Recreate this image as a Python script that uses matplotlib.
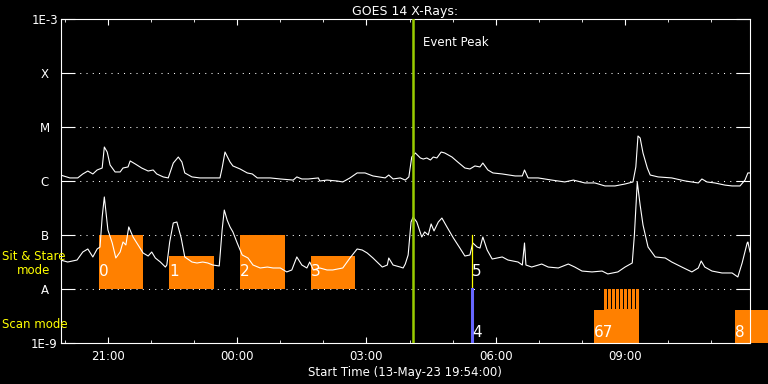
import matplotlib
matplotlib.use('Agg')
import matplotlib.pyplot as plt
import matplotlib.dates as mdates
import pandas as pd

start = pd.Timestamp('2023-05-13 19:54:00')
span_min = 960

# GOES long channel (upper curve), minutes from start, flux in 1e-6 W/m^2
long_min = [0, 13, 24, 31, 38, 45, 51, 58, 61, 65, 69, 76, 83, 87, 94, 97, 104, 113, 122, 129,
            134, 143, 150, 157, 164, 169, 173, 183, 194, 204, 222, 225, 229, 236, 240, 250, 260,
            267, 274, 292, 306, 324, 329, 336, 345, 359, 361, 371, 385, 393, 403, 413, 424, 435,
            452, 457, 463, 473, 480, 485, 489, 494, 501, 505, 510, 515, 519, 524, 530, 535, 545,
            553, 563, 570, 577, 584, 588, 595, 602, 615, 633, 643, 646, 651, 665, 684, 702, 714,
            730, 744, 754, 758, 772, 786, 797, 801, 804, 807, 811, 817, 821, 832, 851, 870, 888,
            893, 900, 911, 925, 935, 946, 953, 957, 960]
long_flux = [1.29, 1.14, 1.14, 1.35, 1.53, 1.35, 1.60, 1.74, 4.26, 3.44, 1.98, 1.47, 1.47, 1.74,
             1.82, 2.35, 2.07, 1.74, 1.53, 1.60, 1.35, 1.19, 1.14, 2.15, 2.78, 2.25, 1.41, 1.19,
             1.14, 1.14, 1.14, 1.74, 3.44, 2.25, 1.90, 1.67, 1.41, 1.35, 1.14, 1.14, 1.09, 1.04,
             1.19, 1.09, 1.09, 1.14, 1.00, 1.04, 1.00, 0.96, 1.14, 1.41, 1.41, 1.24, 1.14, 1.29,
             1.09, 1.14, 1.04, 1.19, 2.78, 3.30, 2.67, 2.55, 2.67, 2.45, 2.78, 2.67, 3.44, 3.30,
             2.78, 2.25, 1.74, 1.67, 1.90, 1.82, 2.15, 1.60, 1.41, 1.35, 1.24, 1.24, 1.60, 1.14,
             1.14, 1.04, 0.96, 1.04, 0.92, 0.92, 0.84, 0.81, 0.81, 0.88, 0.96, 1.82, 6.81, 6.26,
             3.30, 1.74, 1.29, 1.19, 1.14, 1.00, 0.92, 1.09, 0.96, 0.92, 0.84, 0.81, 0.81, 1.04,
             1.41, 1.41]

# GOES short channel (lower curve), minutes from start, flux in 1e-8 W/m^2
short_min = [0, 10, 23, 31, 38, 45, 51, 55, 58, 61, 63, 66, 72, 77, 83, 87, 91, 95, 101, 108,
             115, 122, 127, 132, 139, 146, 148, 152, 157, 162, 168, 173, 183, 190, 198, 205, 212,
             221, 225, 228, 232, 236, 240, 246, 253, 261, 268, 278, 288, 296, 306, 315, 322, 329,
             336, 343, 347, 352, 361, 371, 379, 393, 403, 413, 420, 427, 435, 448, 455, 457, 463,
             473, 477, 480, 484, 488, 491, 496, 503, 507, 512, 516, 520, 526, 531, 538, 547, 556,
             563, 570, 574, 580, 584, 588, 594, 601, 615, 623, 637, 643, 646, 648, 656, 670, 679,
             693, 707, 716, 726, 740, 754, 762, 776, 786, 796, 799, 803, 807, 811, 818, 828, 842,
             851, 865, 879, 888, 892, 897, 907, 921, 935, 943, 949, 956, 957, 960]
short_flux = [3.44, 3.16, 3.44, 4.84, 5.51, 3.92, 5.51, 5.99, 21.5, 50.6, 29.0, 12.4, 7.11, 3.75,
              4.84, 7.42, 6.53, 14.1, 9.18, 6.53, 4.64, 4.08, 4.84, 3.75, 3.16, 2.55, 2.78, 7.42,
              16.7, 17.4, 8.80, 3.92, 3.16, 3.03, 3.16, 3.03, 2.78, 2.67, 12.4, 29.0, 18.9, 14.1,
              11.4, 7.11, 4.26, 3.75, 2.78, 2.45, 2.55, 2.45, 2.45, 2.07, 2.25, 3.92, 2.78, 2.45,
              3.16, 2.25, 2.45, 2.25, 2.25, 2.45, 3.75, 5.51, 5.27, 4.64, 3.75, 2.55, 2.78, 3.75,
              2.78, 2.55, 2.45, 2.90, 4.26, 17.4, 21.5, 17.4, 9.18, 11.4, 10.0, 16.0, 11.9, 17.4,
              20.6, 14.1, 8.80, 5.74, 4.08, 4.26, 7.11, 5.99, 5.74, 9.18, 5.27, 3.59, 3.92, 3.44,
              3.16, 2.78, 7.11, 2.78, 2.55, 2.90, 2.55, 2.45, 2.90, 2.55, 2.15, 2.07, 2.15, 1.90,
              2.07, 2.55, 3.03, 10.0, 95.8, 35.9, 15.3, 5.99, 3.92, 3.75, 3.16, 2.55, 2.07, 2.45,
              3.30, 2.55, 2.15, 1.98, 1.98, 1.67, 3.03, 7.11, 7.42, 4.84]

# observing blocks (minutes from start)
stare_start = [54, 151, 250, 349]
stare_end = [115, 214, 312, 410]
stare_top = [1e-7, 4.1e-8, 1e-7, 4.1e-8]
stare_labels = ['0', '1', '2', '3']

scan_start = [743, 939]
scan_end = [805, 985]
scan_top = [4.1e-9, 4.1e-9]
scan_labels = ['67', '8']
# rasters drawn as an orange block split by thin black gaps
raster_block = (757, 806)
raster_gaps = [761.5, 767, 772.5, 778, 783.5, 789, 794.5, 800]

peak_min = 491
mark_min = 573

level_vals = [1e-9, 1e-8, 1e-7, 1e-6, 1e-5, 1e-4, 1e-3]
level_labels = ['1E-9', 'A', 'B', 'C', 'M', 'X', '1E-3']

orange = '#ff8000'


def t(m):
    return start + pd.Timedelta(minutes=m)


fig = plt.figure(figsize=(7.68, 3.84), dpi=100, facecolor='black')
ax = fig.add_axes([0.0788, 0.1068, 0.8978, 0.8437], facecolor='black')
ax.set_yscale('log')
ax.set_ylim(1e-9, 1e-3)
ax.set_xlim(t(0), t(span_min))

# orange blocks
for s, e, top, lab in zip(stare_start, stare_end, stare_top, stare_labels):
    ax.fill_between([t(s), t(e)], 1e-8, top, color=orange, lw=0, zorder=2, antialiased=False)
    ax.text(t(s), 2.1e-8, lab, color='white', fontsize=11, ha='left', va='center', zorder=5)
for s, e, top, lab in zip(scan_start, scan_end, scan_top, scan_labels):
    ax.fill_between([t(s), t(e)], 1e-9, top, color=orange, lw=0, zorder=2, clip_on=False,
                    antialiased=False)
    ax.text(t(s), 1.55e-9, lab, color='white', fontsize=11, ha='left', va='center', zorder=5)
ax.fill_between([t(raster_block[0]), t(raster_block[1])], 4.1e-9, 1e-8, color=orange, lw=0,
                zorder=2, antialiased=False)
for g in raster_gaps:
    ax.plot([t(g), t(g)], [4.5e-9, 1e-8], color='black', lw=0.55, zorder=2.5, antialiased=False)

# grid at flare class levels
for v in level_vals[1:-1]:
    ax.axhline(v, color='white', lw=0.75, ls=(0, (1, 5)), zorder=1)

# light curves
ax.plot([t(m) for m in long_min], [f * 1e-6 for f in long_flux], color='white', lw=0.8, zorder=3)
ax.plot([t(m) for m in short_min], [f * 1e-8 for f in short_flux], color='white', lw=0.8, zorder=3)

# event markers
ax.axvline(t(peak_min), color='#99cc00', lw=1.8, zorder=4)
ax.annotate('Event Peak', (t(peak_min), 3.6e-4), xytext=(7, 0), textcoords='offset points',
            color='white', fontsize=8.5, va='center', ha='left')
ax.plot([t(mark_min), t(mark_min)], [1e-8, 1e-7], color='yellow', lw=0.9, zorder=4)
ax.plot([t(mark_min - 0.6), t(mark_min - 0.6)], [1e-9, 1e-8], color='#6666ff', lw=2.2, zorder=4)
ax.text(t(mark_min), 2.1e-8, '5', color='white', fontsize=11, ha='left', va='center', zorder=5)
ax.text(t(mark_min), 1.55e-9, '4', color='white', fontsize=11, ha='left', va='center', zorder=5)

# axes styling
for sp in ax.spines.values():
    sp.set_color('white')
ax.set_yticks(level_vals)
ax.set_yticklabels(level_labels)
ax.yaxis.set_minor_locator(matplotlib.ticker.NullLocator())
ax.tick_params(axis='y', which='major', direction='in', length=10, color='white',
               labelcolor='white', labelsize=8.5, right=True, pad=11.5)
for lbl in ax.get_yticklabels():
    lbl.set_horizontalalignment('center')

ax.xaxis.set_major_locator(mdates.HourLocator(byhour=range(0, 24, 3)))
ax.xaxis.set_minor_locator(mdates.HourLocator())
ax.xaxis.set_major_formatter(mdates.DateFormatter('%H:%M'))
ax.tick_params(axis='x', which='major', direction='in', length=4.3, color='white',
               labelcolor='white', labelsize=8.5, top=True, pad=5)
ax.tick_params(axis='x', which='minor', direction='in', length=2.2, color='white', top=True)

ax.set_title('GOES 14 X-Rays:', color='white', fontsize=9, pad=3)
ax.set_xlabel('Start Time (13-May-23 19:54:00)', color='white', fontsize=8.5, labelpad=2)

fig.text(34 / 768, 1 - 264 / 384, 'Sit & Stare\nmode', color='yellow', fontsize=8.5,
         ha='center', va='center', linespacing=1.1, zorder=10)
fig.text(2 / 768, 1 - 324 / 384, 'Scan mode', color='yellow', fontsize=8.5,
         ha='left', va='center')

fig.savefig('out.png', dpi=100, facecolor='black')
